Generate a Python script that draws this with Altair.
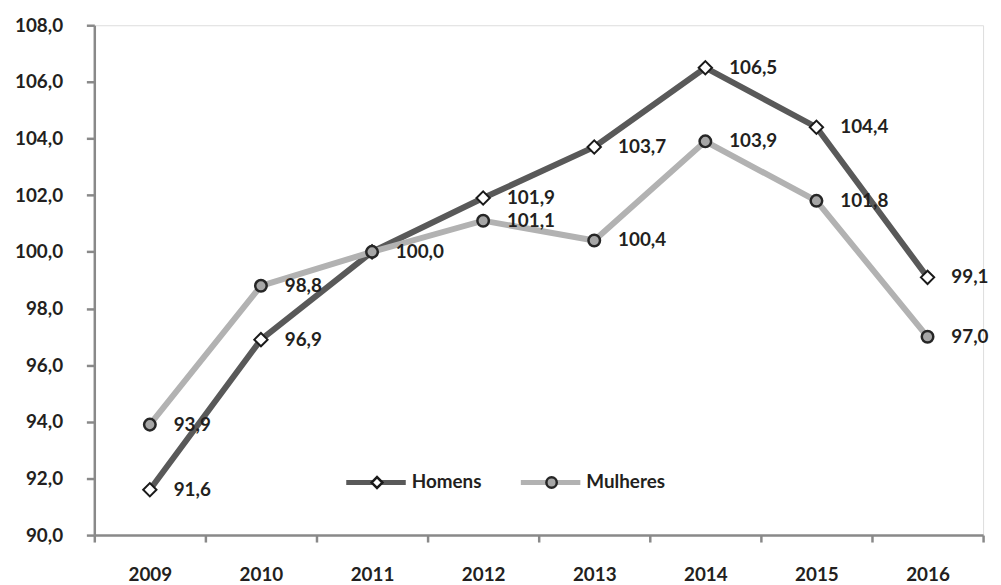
import altair as alt
import pandas as pd

years = ["2009", "2010", "2011", "2012", "2013", "2014", "2015", "2016"]
homens = [91.6, 96.9, 100.0, 101.9, 103.7, 106.5, 104.4, 99.1]
mulheres = [93.9, 98.8, 100.0, 101.1, 100.4, 103.9, 101.8, 97.0]
series_names = ["Homens", "Mulheres"]
y_ticks = [90, 92, 94, 96, 98, 100, 102, 104, 106, 108]

rows = []
for name, vals in zip(series_names, [homens, mulheres]):
    for yr, v in zip(years, vals):
        rows.append({"serie": name, "ano": yr, "valor": v})
df = pd.DataFrame(rows)
df["rotulo"] = df["valor"].map(lambda v: f"{v:.1f}".replace(".", ","))
df["mostrar"] = ~df.duplicated(["ano", "valor"], keep="first")

FONT = "Lato"
FS = 19
TXT = "#231f20"
AXC = "#898989"
LINE_COLORS = {"Homens": "#595959", "Mulheres": "#b2b2b2"}

x_enc = alt.X(
    "ano:N",
    sort=years,
    scale=alt.Scale(paddingInner=0, paddingOuter=0),
    axis=alt.Axis(
        title=None, labelAngle=0, tickBand="extent", tickSize=7, tickWidth=2.5,
        tickColor=AXC, domainColor=AXC, domainWidth=2.5, labelPadding=33,
        labelBaseline="middle", labelFont=FONT, labelFontSize=FS,
        labelFontWeight="bold", labelColor=TXT, grid=False,
    ),
)
y_enc = alt.Y(
    "valor:Q",
    scale=alt.Scale(domain=[90, 108], nice=False, zero=False),
    axis=alt.Axis(
        title=None, values=y_ticks, tickSize=8, tickWidth=2.5, tickColor=AXC,
        domainColor=AXC, domainWidth=2.5, labelPadding=24,
        labelExpr="replace(format(datum.value, '.1f'), '.', ',')",
        labelFont=FONT, labelFontSize=FS, labelFontWeight="bold",
        labelColor=TXT, grid=False,
    ),
)

base = alt.Chart(df)

def line(name):
    return base.transform_filter(alt.datum.serie == name).mark_line(
        strokeWidth=6, color=LINE_COLORS[name]
    ).encode(x=x_enc, y=y_enc)

pts_h = base.transform_filter(alt.datum.serie == "Homens").mark_point(
    shape="diamond", size=180, filled=True, fill="white", stroke="#1a1a1a",
    strokeWidth=2, opacity=1
).encode(x=x_enc, y=y_enc)

pts_m = base.transform_filter(alt.datum.serie == "Mulheres").mark_point(
    shape="circle", size=135, filled=True, fill="#a6a6a6", stroke="#262626",
    strokeWidth=2.5, opacity=1
).encode(x=x_enc, y=y_enc)

labels = base.transform_filter(alt.datum.mostrar).mark_text(
    align="left", baseline="middle", dx=24, font=FONT, fontSize=FS,
    fontWeight="bold", color=TXT
).encode(x=x_enc, y=y_enc, text="rotulo:N")

# legend drawn manually (line with marker + label)
leg_df = pd.DataFrame({"serie": series_names})
leg_pos = {"Homens": 254, "Mulheres": 430}
leg_y = 461
leg_layers = []
for name in series_names:
    x0 = leg_pos[name]
    lb = alt.Chart(leg_df).transform_filter(alt.datum.serie == name)
    leg_layers.append(lb.mark_rule(strokeWidth=5, color=LINE_COLORS[name]).encode(
        x=alt.value(x0), x2=alt.value(x0 + 60), y=alt.value(leg_y)))
    if name == "Homens":
        mk = lb.mark_point(shape="diamond", size=120, filled=True, fill="white",
                           stroke="#1a1a1a", strokeWidth=2.5, opacity=1)
    else:
        mk = lb.mark_point(shape="circle", size=110, filled=True, fill="#a6a6a6",
                           stroke="#262626", strokeWidth=2.5, opacity=1)
    leg_layers.append(mk.encode(x=alt.value(x0 + 31), y=alt.value(leg_y)))
    leg_layers.append(lb.mark_text(align="left", baseline="middle", font=FONT,
                                   fontSize=FS, fontWeight="bold", color=TXT).encode(
        x=alt.value(x0 + 66), y=alt.value(leg_y), text="serie:N"))

chart = alt.layer(
    line("Homens"), pts_h, line("Mulheres"), pts_m, labels, *leg_layers
).properties(
    width=896, height=514,
    autosize=alt.AutoSizeParams(type="none"),
    padding={"left": 87, "top": 15, "right": 10, "bottom": 55},
).configure_view(stroke=None).configure(background="white")

chart.save("out.html", embed_options={"renderer": "svg", "actions": False})
